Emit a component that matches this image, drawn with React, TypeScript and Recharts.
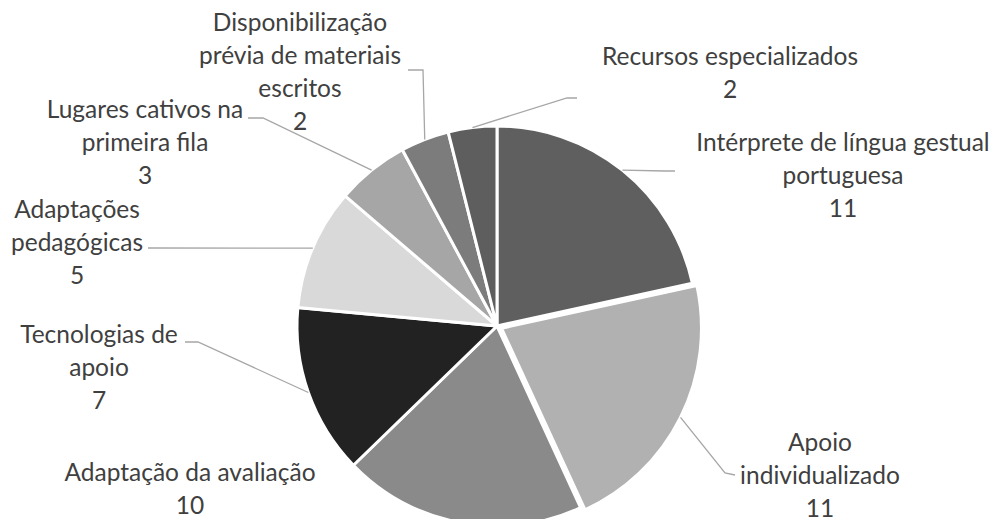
import React from 'react';
import { PieChart, Pie, Cell } from 'recharts';

const categories = [
  'Intérprete de língua gestual portuguesa',
  'Apoio individualizado',
  'Adaptação da avaliação',
  'Tecnologias de apoio',
  'Adaptações pedagógicas',
  'Lugares cativos na primeira fila',
  'Disponibilização prévia de materiais escritos',
  'Recursos especializados',
];
const values = [11, 11, 10, 7, 5, 3, 2, 2];
const labelLines = [
  ['Intérprete de língua gestual', 'portuguesa'],
  ['Apoio', 'individualizado'],
  ['Adaptação da avaliação'],
  ['Tecnologias de', 'apoio'],
  ['Adaptações', 'pedagógicas'],
  ['Lugares cativos na', 'primeira fila'],
  ['Disponibilização', 'prévia de materiais', 'escritos'],
  ['Recursos especializados'],
];
const colors = ['#5f5f5f', '#b1b1b1', '#8a8a8a', '#222222', '#d9d9d9', '#a6a6a6', '#7c7c7c', '#5e5e5e'];
const explode = [0, 5, 0, 0, 0, 0, 0, 0];

// label text block: centre x, first baseline y, leader bend/end points
const labelLayout = [
  { x: 843, y: 151, leader: [[665, 171], [675, 171]] },
  { x: 820, y: 451, leader: [[725, 473], [735, 475]] },
  { x: 190, y: 481, leader: [] },
  { x: 99, y: 343, leader: [[198, 342], [185, 342]] },
  { x: 77, y: 218, leader: [[148, 248]] },
  { x: 145, y: 118, leader: [[263, 118], [248, 118]] },
  { x: 300, y: 31, leader: [[423, 70], [408, 70]] },
  { x: 730, y: 65, leader: [[567, 98], [577, 98]] },
];

const data = categories.map((name, i) => ({ name, value: values[i] }));
const total = values.reduce((a, b) => a + b, 0);
const RAD = Math.PI / 180;
const LINE_H = 33;

const midAngles = values.map((v, i) => {
  const before = values.slice(0, i).reduce((a, b) => a + b, 0);
  return 90 - ((before + v / 2) / total) * 360;
});

const renderLabel = (props: any) => {
  const { cx, cy, outerRadius, index } = props;
  const ang = midAngles[index];
  const r = outerRadius + explode[index];
  const sx = cx + r * Math.cos(-ang * RAD);
  const sy = cy + r * Math.sin(-ang * RAD);
  const lay = labelLayout[index];
  const lines = [...labelLines[index], String(values[index])];
  const pts = lay.leader.length ? [[sx, sy], ...lay.leader] : [];
  return (
    <g key={`lbl-${index}`}>
      {pts.length > 0 && (
        <polyline
          points={pts.map((p) => p.join(',')).join(' ')}
          fill="none"
          stroke="#a6a6a6"
          strokeWidth={1.3}
        />
      )}
      <text
        x={lay.x}
        y={lay.y}
        textAnchor="middle"
        fill="#404040"
        fontSize={24.5}
        fontFamily="Lato, sans-serif"
      >
        {lines.map((t, k) => (
          <tspan key={k} x={lay.x} y={lay.y + k * LINE_H}>
            {t}
          </tspan>
        ))}
      </text>
    </g>
  );
};

export default function App() {
  return (
    <div style={{ position: 'absolute', left: 0, top: 0, width: 997, height: 519, background: '#fff' }}>
      <PieChart width={997} height={519} margin={{ top: 0, right: 0, bottom: 0, left: 0 }}>
        <Pie
          data={data}
          dataKey="value"
          nameKey="name"
          cx={497}
          cy={326}
          outerRadius={200}
          startAngle={90}
          endAngle={-270}
          stroke="#ffffff"
          strokeWidth={3}
          isAnimationActive={false}
          labelLine={false}
          label={renderLabel}
        >
          {data.map((d, i) => {
            const dx = explode[i] * Math.cos(-midAngles[i] * RAD);
            const dy = explode[i] * Math.sin(-midAngles[i] * RAD);
            return (
              <Cell
                key={d.name}
                fill={colors[i]}
                transform={explode[i] ? `translate(${dx.toFixed(2)},${dy.toFixed(2)})` : undefined}
              />
            );
          })}
        </Pie>
      </PieChart>
    </div>
  );
}
